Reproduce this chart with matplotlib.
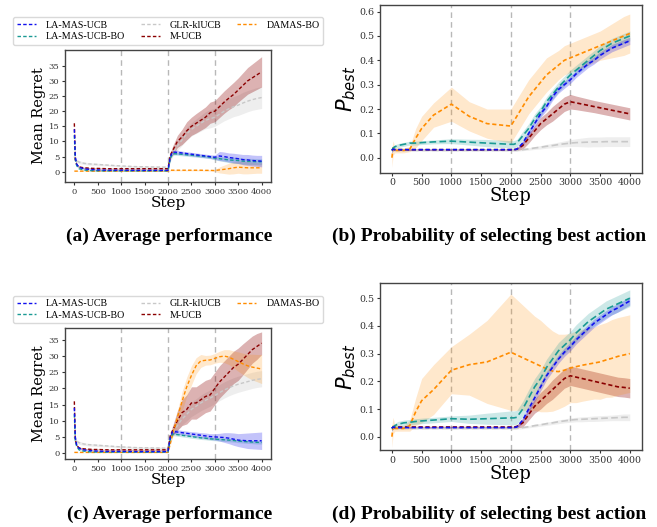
import matplotlib
matplotlib.use("Agg")
import matplotlib.pyplot as plt
import numpy as np

# ---------------- data ----------------
steps = [0, 20, 50, 100, 200, 300, 400, 500, 700, 1000, 1300, 1600, 2000, 2050, 2100,
         2200, 2300, 2400, 2500, 2600, 2700, 2800, 2900, 3000, 3100, 3200, 3300, 3400,
         3500, 3600, 3700, 3800, 3900, 4000]

names = ["LA-MAS-UCB", "LA-MAS-UCB-BO", "GLR-klUCB", "M-UCB", "DAMAS-BO"]

# Panel (a): mean regret
a_blue = [14, 5, 2.5, 1.5, 1.0, 0.8, 0.7, 0.6, 0.5, 0.5, 0.45, 0.45, 0.45, 5.0, 6.5,
          6.4, 6.2, 6.0, 5.8, 5.6, 5.4, 5.2, 5.0, 4.8, 5.2, 5.0, 4.7, 4.5, 4.3, 4.0, 3.9, 3.7, 3.6, 3.5]
a_blue_sd = [0.5, 0.5, 0.3, 0.2, 0.2, 0.2, 0.2, 0.2, 0.2, 0.2, 0.2, 0.2, 0.2, 0.5, 0.7,
             0.7, 0.6, 0.6, 0.6, 0.6, 0.6, 0.6, 0.6, 0.7, 1.5, 1.5, 1.5, 1.6, 1.6, 1.7, 1.8, 1.8, 1.8, 1.9]
a_teal = [12, 4, 2.0, 1.0, 0.6, 0.4, 0.35, 0.3, 0.3, 0.3, 0.3, 0.3, 0.3, 4.5, 6.0,
          5.9, 5.75, 5.6, 5.45, 5.3, 5.15, 5.0, 4.8, 4.5, 4.3, 4.1, 3.9, 3.8, 3.7, 3.5, 3.4, 3.4, 3.3, 3.3]
a_teal_sd = [0.5, 0.4, 0.3, 0.2, 0.1, 0.1, 0.1, 0.1, 0.1, 0.1, 0.1, 0.1, 0.1, 0.4, 0.5,
             0.5, 0.5, 0.5, 0.5, 0.5, 0.5, 0.5, 0.5, 0.6, 0.7, 0.8, 0.9, 1.0, 1.0, 1.0, 1.0, 1.0, 1.0, 1.0]
a_gray = [5, 4, 3.6, 3.2, 2.8, 2.6, 2.5, 2.4, 2.2, 1.9, 1.7, 1.6, 1.5, 4.0, 6.0,
          8.5, 10.5, 12.5, 14, 15, 16, 17, 17.5, 18, 19, 20, 20.8, 21.5, 22, 22.7, 23.3, 23.8, 24.2, 24.5]
a_gray_sd = [0.8, 0.6, 0.5, 0.5, 0.4, 0.4, 0.4, 0.4, 0.3, 0.3, 0.3, 0.3, 0.3, 0.6, 1.0,
             1.5, 1.8, 2.0, 2.2, 2.4, 2.6, 2.8, 3.0, 3.0, 3.1, 3.2, 3.3, 3.3, 3.4, 3.5, 3.5, 3.5, 3.6, 3.6]
a_red = [16, 4, 2.3, 1.6, 1.3, 1.2, 1.1, 1.1, 1.0, 1.0, 1.0, 1.0, 1.0, 5.5, 7.0,
         10, 11.5, 13.5, 15, 16, 17, 18, 19.5, 20, 21.5, 23, 24.3, 25.5, 27, 28.5, 30, 31, 32, 33]
a_red_sd = [0.5, 0.4, 0.3, 0.3, 0.2, 0.2, 0.2, 0.2, 0.2, 0.2, 0.2, 0.2, 0.2, 0.8, 1.5,
            2.0, 2.5, 3.0, 3.0, 3.2, 3.3, 3.4, 3.5, 3.5, 3.6, 3.7, 3.8, 4.0, 4.0, 4.2, 4.4, 4.6, 4.8, 5.0]
a_orange = [0.2, 0.2, 0.2, 0.2, 0.2, 0.2, 0.2, 0.2, 0.2, 0.2, 0.2, 0.2, 0.2, 0.5, 0.5,
            0.5, 0.5, 0.5, 0.5, 0.5, 0.5, 0.45, 0.45, 0.4, 0.6, 0.8, 1.0, 1.3, 1.5, 1.4, 1.3, 1.3, 1.3, 1.3]
a_orange_sd = [0.1, 0.1, 0.1, 0.1, 0.1, 0.1, 0.1, 0.1, 0.1, 0.1, 0.1, 0.1, 0.1, 0.2, 0.2,
               0.2, 0.2, 0.2, 0.2, 0.2, 0.2, 0.2, 0.2, 0.3, 1.0, 1.4, 1.8, 2.0, 2.0, 2.1, 2.0, 1.9, 1.8, 1.8]

# Panel (b): probability of best action
b_blue = [0.03, 0.035, 0.033, 0.033, 0.033, 0.033, 0.033, 0.033, 0.033, 0.033, 0.033, 0.033, 0.033, 0.033, 0.035,
          0.06, 0.10, 0.14, 0.18, 0.21, 0.25, 0.28, 0.30, 0.32, 0.345, 0.365, 0.385, 0.40, 0.42, 0.435, 0.45, 0.46, 0.47, 0.48]
b_blue_sd = [0.01, 0.005, 0.003, 0.003, 0.003, 0.003, 0.003, 0.003, 0.003, 0.003, 0.003, 0.003, 0.003, 0.003, 0.005,
             0.01, 0.012, 0.014, 0.015, 0.015, 0.015, 0.015, 0.015, 0.015, 0.015, 0.015, 0.015, 0.015, 0.015, 0.015, 0.015, 0.015, 0.015, 0.015]
b_teal = [0.03, 0.04, 0.045, 0.05, 0.055, 0.06, 0.06, 0.062, 0.065, 0.068, 0.064, 0.06, 0.055, 0.055, 0.06,
          0.09, 0.12, 0.16, 0.19, 0.23, 0.26, 0.29, 0.315, 0.34, 0.36, 0.38, 0.40, 0.42, 0.44, 0.455, 0.47, 0.48, 0.49, 0.50]
b_teal_sd = [0.01, 0.008, 0.008, 0.008, 0.008, 0.008, 0.008, 0.008, 0.008, 0.01, 0.012, 0.015, 0.015, 0.015, 0.015,
             0.018, 0.02, 0.02, 0.02, 0.02, 0.02, 0.02, 0.02, 0.02, 0.02, 0.02, 0.02, 0.02, 0.02, 0.02, 0.02, 0.02, 0.02, 0.02]
b_gray = [0.03, 0.03, 0.03, 0.03, 0.03, 0.03, 0.03, 0.03, 0.03, 0.03, 0.03, 0.03, 0.03, 0.03, 0.03,
          0.033, 0.036, 0.04, 0.043, 0.047, 0.05, 0.054, 0.057, 0.06, 0.062, 0.063, 0.064, 0.065, 0.065, 0.066, 0.066, 0.066, 0.066, 0.066]
b_gray_sd = [0.003, 0.003, 0.003, 0.003, 0.003, 0.003, 0.003, 0.003, 0.003, 0.003, 0.003, 0.003, 0.003, 0.003, 0.003,
             0.004, 0.005, 0.006, 0.007, 0.008, 0.009, 0.01, 0.012, 0.014, 0.016, 0.018, 0.02, 0.02, 0.02, 0.02, 0.02, 0.02, 0.02, 0.02]
b_red = [0.03, 0.035, 0.033, 0.033, 0.033, 0.033, 0.033, 0.033, 0.033, 0.033, 0.033, 0.033, 0.033, 0.033, 0.035,
         0.05, 0.08, 0.11, 0.14, 0.16, 0.18, 0.20, 0.22, 0.23, 0.225, 0.22, 0.215, 0.21, 0.205, 0.20, 0.195, 0.19, 0.185, 0.18]
b_red_sd = [0.01, 0.005, 0.003, 0.003, 0.003, 0.003, 0.003, 0.003, 0.003, 0.003, 0.003, 0.003, 0.003, 0.003, 0.005,
            0.015, 0.02, 0.02, 0.025, 0.025, 0.03, 0.03, 0.03, 0.03, 0.028, 0.027, 0.026, 0.025, 0.025, 0.025, 0.025, 0.025, 0.025, 0.025]
b_orange = [0.0, 0.04, 0.03, 0.03, 0.03, 0.035, 0.08, 0.12, 0.175, 0.22, 0.17, 0.14, 0.13, 0.15, 0.17,
            0.21, 0.25, 0.28, 0.31, 0.34, 0.36, 0.38, 0.40, 0.41, 0.42, 0.43, 0.44, 0.45, 0.46, 0.47, 0.48, 0.49, 0.50, 0.51]
b_orange_sd = [0.04, 0.03, 0.01, 0.01, 0.01, 0.01, 0.04, 0.05, 0.05, 0.07, 0.06, 0.06, 0.07, 0.07, 0.07,
               0.07, 0.07, 0.07, 0.07, 0.07, 0.065, 0.06, 0.06, 0.06, 0.06, 0.06, 0.06, 0.06, 0.06, 0.065, 0.07, 0.075, 0.08, 0.08]

# Panel (c): mean regret
c_blue = [14, 5, 2.5, 1.5, 1.0, 0.8, 0.7, 0.6, 0.5, 0.5, 0.45, 0.45, 0.45, 5.0, 6.7,
          6.5, 6.3, 6.1, 5.9, 5.7, 5.5, 5.3, 5.1, 5.0, 4.9, 4.8, 4.6, 4.3, 4.0, 3.9, 3.8, 3.8, 3.8, 3.8]
c_blue_sd = [0.5, 0.5, 0.3, 0.2, 0.2, 0.2, 0.2, 0.2, 0.2, 0.2, 0.2, 0.2, 0.2, 0.5, 0.7,
             0.7, 0.7, 0.7, 0.7, 0.8, 0.8, 0.9, 0.9, 1.0, 1.2, 1.5, 1.7, 1.9, 2.0, 2.2, 2.4, 2.5, 2.6, 2.7]
c_teal = [12, 4, 2.0, 1.0, 0.6, 0.4, 0.35, 0.3, 0.3, 0.3, 0.3, 0.3, 0.3, 4.5, 5.9,
          5.7, 5.5, 5.3, 5.1, 4.9, 4.7, 4.6, 4.4, 4.3, 4.2, 4.1, 4.0, 3.9, 3.7, 3.6, 3.5, 3.4, 3.3, 3.3]
c_teal_sd = [0.5, 0.4, 0.3, 0.2, 0.1, 0.1, 0.1, 0.1, 0.1, 0.1, 0.1, 0.1, 0.1, 0.4, 0.5,
             0.5, 0.5, 0.5, 0.5, 0.5, 0.5, 0.5, 0.5, 0.5, 0.5, 0.5, 0.5, 0.5, 0.5, 0.5, 0.5, 0.5, 0.5, 0.5]
c_gray = [5, 4, 3.6, 3.2, 2.8, 2.6, 2.5, 2.4, 2.2, 1.9, 1.7, 1.6, 1.5, 4.0, 6.0,
          8.5, 10.5, 12, 13.5, 14.5, 15.5, 16.3, 17, 17.8, 18.7, 19.5, 20.2, 20.8, 21.3, 21.7, 22.1, 22.5, 22.8, 23]
c_gray_sd = [0.8, 0.6, 0.5, 0.5, 0.4, 0.4, 0.4, 0.4, 0.3, 0.3, 0.3, 0.3, 0.3, 0.6, 1.0,
             1.5, 1.8, 2.0, 2.2, 2.3, 2.4, 2.5, 2.5, 2.5, 2.5, 2.5, 2.5, 2.5, 2.5, 2.5, 2.5, 2.5, 2.5, 2.5]
c_red = [16, 4, 2.3, 1.6, 1.3, 1.2, 1.1, 1.1, 1.0, 1.0, 1.0, 1.0, 1.0, 5.5, 7.0,
         10, 12.5, 13.5, 15.5, 15.5, 16.5, 17.5, 18, 20, 22, 23.5, 25, 26.5, 27.5, 29, 30.5, 32, 33, 34]
c_red_sd = [0.5, 0.4, 0.3, 0.3, 0.2, 0.2, 0.2, 0.2, 0.2, 0.2, 0.2, 0.2, 0.2, 0.8, 1.5,
            3.0, 4.0, 4.5, 5.0, 5.0, 5.0, 5.0, 5.0, 5.0, 5.0, 5.0, 5.0, 5.0, 5.0, 4.8, 4.5, 4.2, 4.0, 3.5]
c_orange = [0.2, 0.2, 0.2, 0.2, 0.2, 0.2, 0.2, 0.2, 0.2, 0.2, 0.2, 0.2, 0.2, 3.0, 6.0,
            11, 16, 20.5, 24, 27, 28.5, 28.7, 28.8, 29.3, 29.8, 30, 29.7, 29.0, 28.3, 27.6, 27.0, 26.6, 26.3, 26]
c_orange_sd = [0.1, 0.1, 0.1, 0.1, 0.1, 0.1, 0.1, 0.1, 0.1, 0.1, 0.1, 0.1, 0.1, 0.5, 1.0,
               2.0, 3.0, 3.0, 3.0, 2.5, 2.0, 1.5, 1.5, 1.5, 1.7, 2.0, 2.3, 2.6, 3.0, 3.3, 3.6, 4.0, 4.2, 4.5]

# Panel (d): probability of best action
d_blue = [0.03, 0.035, 0.033, 0.033, 0.033, 0.033, 0.033, 0.033, 0.033, 0.033, 0.033, 0.033, 0.033, 0.033, 0.035,
          0.06, 0.10, 0.14, 0.18, 0.22, 0.25, 0.28, 0.305, 0.325, 0.35, 0.37, 0.39, 0.41, 0.425, 0.44, 0.455, 0.465, 0.478, 0.49]
d_blue_sd = b_blue_sd
d_teal = [0.03, 0.035, 0.04, 0.045, 0.05, 0.052, 0.055, 0.057, 0.06, 0.065, 0.063, 0.065, 0.068, 0.068, 0.07,
          0.10, 0.14, 0.18, 0.21, 0.25, 0.28, 0.31, 0.33, 0.35, 0.375, 0.395, 0.415, 0.43, 0.445, 0.46, 0.47, 0.48, 0.49, 0.50]
d_teal_sd = [0.01, 0.008, 0.008, 0.01, 0.01, 0.01, 0.01, 0.01, 0.01, 0.01, 0.015, 0.02, 0.025, 0.025, 0.025,
             0.028, 0.03, 0.03, 0.03, 0.03, 0.03, 0.03, 0.03, 0.03, 0.03, 0.03, 0.03, 0.03, 0.03, 0.03, 0.03, 0.03, 0.03, 0.03]
d_gray = [0.03, 0.03, 0.03, 0.03, 0.03, 0.03, 0.03, 0.03, 0.03, 0.03, 0.03, 0.03, 0.03, 0.03, 0.03,
          0.033, 0.036, 0.04, 0.043, 0.047, 0.05, 0.054, 0.057, 0.06, 0.062, 0.063, 0.064, 0.065, 0.066, 0.067, 0.068, 0.069, 0.07, 0.07]
d_gray_sd = [0.003, 0.003, 0.003, 0.003, 0.003, 0.003, 0.003, 0.003, 0.003, 0.003, 0.003, 0.003, 0.003, 0.003, 0.003,
             0.004, 0.004, 0.005, 0.005, 0.006, 0.006, 0.007, 0.007, 0.008, 0.008, 0.009, 0.009, 0.01, 0.01, 0.01, 0.01, 0.011, 0.012, 0.012]
d_red = [0.03, 0.035, 0.035, 0.035, 0.035, 0.035, 0.035, 0.035, 0.035, 0.035, 0.035, 0.035, 0.035, 0.035, 0.037,
         0.05, 0.08, 0.11, 0.13, 0.15, 0.17, 0.19, 0.21, 0.22, 0.215, 0.21, 0.205, 0.20, 0.195, 0.19, 0.185, 0.18, 0.178, 0.175]
d_red_sd = [0.01, 0.005, 0.003, 0.003, 0.003, 0.003, 0.003, 0.003, 0.003, 0.003, 0.003, 0.003, 0.003, 0.003, 0.005,
            0.015, 0.02, 0.025, 0.03, 0.03, 0.035, 0.035, 0.035, 0.035, 0.035, 0.035, 0.035, 0.035, 0.035, 0.035, 0.035, 0.035, 0.035, 0.035]
d_orange = [0.0, 0.04, 0.03, 0.03, 0.03, 0.04, 0.09, 0.13, 0.17, 0.24, 0.26, 0.27, 0.305, 0.30, 0.295,
            0.285, 0.275, 0.265, 0.255, 0.245, 0.237, 0.235, 0.24, 0.248, 0.253, 0.258, 0.262, 0.266, 0.27, 0.277, 0.283, 0.29, 0.295, 0.30]
d_orange_sd = [0.04, 0.03, 0.01, 0.01, 0.01, 0.02, 0.05, 0.08, 0.09, 0.085, 0.11, 0.15, 0.21, 0.205, 0.2,
               0.19, 0.18, 0.17, 0.165, 0.155, 0.145, 0.135, 0.13, 0.125, 0.13, 0.13, 0.13, 0.13, 0.135, 0.135, 0.14, 0.14, 0.14, 0.14]

xticks = [0, 500, 1000, 1500, 2000, 2500, 3000, 3500, 4000]
change_points = [1000, 2000, 3000]
regret_yticks = [0, 5, 10, 15, 20, 25, 30, 35]

captions = ["(a) Average performance", "(b) Probability of selecting best action",
            "(c) Average performance", "(d) Probability of selecting best action"]

# ---------------- style ----------------
colors = ["#1010ee", "#1a9a94", "#c8c8c8", "#8b0000", "#ff8c00"]
fill_alpha = [0.25, 0.22, 0.3, 0.3, 0.2]
serif = "DejaVu Serif"

fig = plt.figure(figsize=(6.57, 5.27), dpi=100)

pos = {
    "a": [0.0989, 0.6546, 0.3136, 0.2505],
    "b": [0.5784, 0.6723, 0.3983, 0.3182],
    "c": [0.0989, 0.1290, 0.3136, 0.2480],
    "d": [0.5784, 0.1461, 0.3983, 0.3175],
}

panels = {
    "a": [(a_blue, a_blue_sd), (a_teal, a_teal_sd), (a_gray, a_gray_sd), (a_red, a_red_sd), (a_orange, a_orange_sd)],
    "b": [(b_blue, b_blue_sd), (b_teal, b_teal_sd), (b_gray, b_gray_sd), (b_red, b_red_sd), (b_orange, b_orange_sd)],
    "c": [(c_blue, c_blue_sd), (c_teal, c_teal_sd), (c_gray, c_gray_sd), (c_red, c_red_sd), (c_orange, c_orange_sd)],
    "d": [(d_blue, d_blue_sd), (d_teal, d_teal_sd), (d_gray, d_gray_sd), (d_red, d_red_sd), (d_orange, d_orange_sd)],
}
ylims = {"a": (-3.4, 40.2), "b": (-0.0615, 0.627), "c": (-1.85, 38.6), "d": (-0.048, 0.556)}
legend_tops = {"a": 1 - 17 / 527, "c": 1 - 295.7 / 527}

x = np.array(steps, dtype=float)
for key in ["a", "b", "c", "d"]:
    ax = fig.add_axes(pos[key])
    small = key in ("a", "c")
    lw = 1.0 if small else 1.2
    for cp in change_points:
        ax.axvline(cp, color="#b8b8b8", lw=1.0, ls=(0, (4, 3)), zorder=1)
    order = [2, 3, 4, 1, 0]
    handles = [None] * 5
    for i in order:
        m, sd = panels[key][i]
        m = np.array(m, dtype=float)
        sd = np.array(sd, dtype=float)
        ax.fill_between(x, m - sd, m + sd, color=colors[i], alpha=fill_alpha[i], lw=0, zorder=2)
        dash = (0, (2.5, 1.6)) if (small or i in (0, 4, 3)) else (0, (4, 2))
        h, = ax.plot(x, m, color=colors[i], lw=lw, ls=dash, zorder=3, label=names[i])
        handles[i] = h
    ax.set_xlim(-200, 4200)
    ax.set_ylim(*ylims[key])
    ax.set_xticks(xticks)
    ts = 6.0 if small else 6.8
    ax.tick_params(labelsize=ts, length=2.5, width=0.8, pad=1.5, colors="#333333")
    for lab in ax.get_xticklabels() + ax.get_yticklabels():
        lab.set_fontfamily(serif)
    for sp in ax.spines.values():
        sp.set_color("#444444")
        sp.set_linewidth(1.0)
    if small:
        ax.set_yticks(regret_yticks)
        ax.set_ylabel("Mean Regret", fontsize=10.5, family=serif, labelpad=2)
        ax.set_xlabel("Step", fontsize=11, family=serif, labelpad=0)
        top = legend_tops[key]
        fig.legend(handles=handles, labels=names, ncol=3, loc="upper left",
                   bbox_to_anchor=(0.0198, top - 0.06, 0.4718, 0.06), mode="expand",
                   prop={"family": "Liberation Serif", "size": 7.2}, frameon=True, fancybox=True,
                   edgecolor="#d0d0d0", handlelength=1.9, handletextpad=1.0,
                   borderpad=0.35, labelspacing=0.25, columnspacing=1.0, borderaxespad=0)
    else:
        ax.set_yticks([0.0, 0.1, 0.2, 0.3, 0.4, 0.5, 0.6] if key == "b" else [0.0, 0.1, 0.2, 0.3, 0.4, 0.5])
        ax.yaxis.set_major_formatter(matplotlib.ticker.FormatStrFormatter("%.1f"))
        ax.set_ylabel(r"$P_{best}$", fontsize=15, labelpad=1)
        ax.set_xlabel("Step", fontsize=13, family=serif, labelpad=0)

cap_font = {"family": "Liberation Serif", "weight": "bold", "size": 14}
fig.text(0.2580, 0.552, captions[0], ha="center", va="center", fontdict=cap_font)
fig.text(0.7440, 0.552, captions[1], ha="center", va="center", fontdict=cap_font)
fig.text(0.2580, 0.0247, captions[2], ha="center", va="center", fontdict=cap_font)
fig.text(0.7440, 0.0247, captions[3], ha="center", va="center", fontdict=cap_font)

fig.savefig("out.png", dpi=100)
